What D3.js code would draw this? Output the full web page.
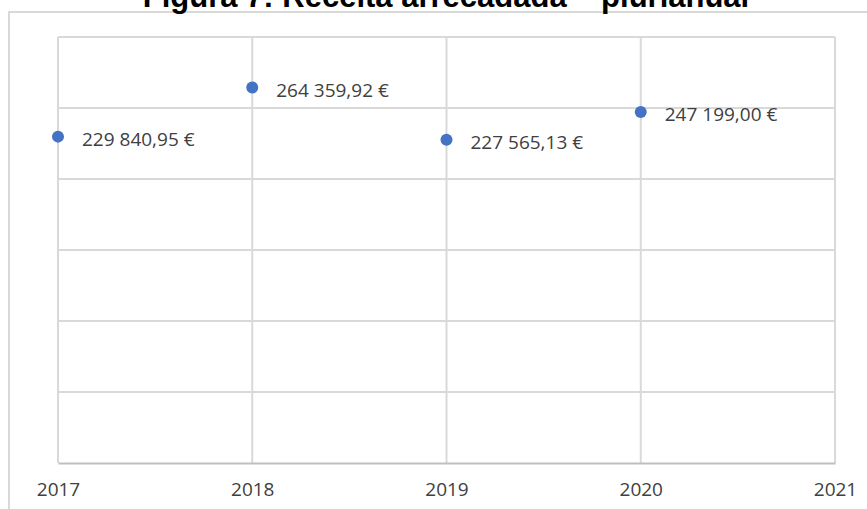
<!DOCTYPE html>
<html>
<head>
<meta charset="utf-8">
<script src="https://cdn.jsdelivr.net/npm/d3@7"></script>
<style>
  html, body { margin: 0; padding: 0; background: #fff; }
  #chart { width: 867px; height: 509px; overflow: hidden; }
  .grid line { stroke: #d9d9d9; stroke-width: 2; }
  .lbl { font-family: "Open Sans", sans-serif; fill: #404040; }
</style>
</head>
<body>
<div id="chart"></div>
<script>
// data
const titleText = "Figura 7: Receita arrecadada – plurianual"
const years = [2017, 2018, 2019, 2020]
const receita = [229840.95, 264359.92, 227565.13, 247199.00]
const receitaLabels = ["229 840,95 €", "264 359,92 €", "227 565,13 €", "247 199,00 €"]
const xTicks = [2017, 2018, 2019, 2020, 2021]
const yTicks = [0, 50000, 100000, 150000, 200000, 250000, 300000]

const W = 867, H = 509
const margin = { top: 37, right: 32, bottom: 46, left: 58 }

const svg = d3.select("#chart").append("svg")
    .attr("width", W)
    .attr("height", H)

// outer frame (right and bottom edges fall outside the picture)
svg.append("rect")
    .attr("x", 9).attr("y", 12)
    .attr("width", W + 20).attr("height", H + 20)
    .attr("fill", "none")
    .attr("stroke", "#d9d9d9")
    .attr("stroke-width", 2)

// title, mostly cut at the top like in the source
svg.append("text")
    .attr("x", 446).attr("y", 7)
    .attr("text-anchor", "middle")
    .style("font-family", "'Liberation Sans', Arial, sans-serif")
    .style("font-weight", "bold")
    .style("font-size", "31px")
    .attr("fill", "#000")
    .text(titleText)

const xScale = d3.scaleLinear().domain([2017, 2021]).range([margin.left, W - margin.right])
const yScale = d3.scaleLinear().domain([0, 300000]).range([H - margin.bottom, margin.top])

const g = svg.append("g")

// horizontal grid
g.append("g").attr("class", "grid")
    .selectAll("line")
    .data(yTicks.slice(1))
    .join("line")
    .attr("x1", xScale(2017)).attr("x2", xScale(2021))
    .attr("y1", d => yScale(d)).attr("y2", d => yScale(d))

// vertical grid
g.append("g").attr("class", "grid")
    .selectAll("line")
    .data(xTicks)
    .join("line")
    .attr("x1", d => xScale(d)).attr("x2", d => xScale(d))
    .attr("y1", yScale(300000)).attr("y2", yScale(0))

// x axis
const xAxis = d3.axisBottom(xScale).tickValues(xTicks).tickFormat(d3.format("d")).tickSize(0).tickPadding(20)
const ax = g.append("g")
    .attr("transform", "translate(0," + yScale(0) + ")")
    .call(xAxis)
ax.select(".domain").attr("stroke", "#bfbfbf").attr("stroke-width", 2)
ax.selectAll("text")
    .attr("class", "lbl")
    .style("font-size", "19px")
    .attr("fill", "#404040")

// points
g.selectAll("circle.pt")
    .data(years)
    .join("circle")
    .attr("class", "pt")
    .attr("cx", d => xScale(d))
    .attr("cy", (d, i) => yScale(receita[i]))
    .attr("r", 6)
    .attr("fill", "#4472c4")

// data labels
g.selectAll("text.dl")
    .data(years)
    .join("text")
    .attr("class", "dl lbl")
    .attr("x", d => xScale(d) + 24)
    .attr("y", (d, i) => yScale(receita[i]) + 2)
    .attr("dominant-baseline", "central")
    .style("font-size", "19px")
    .text((d, i) => receitaLabels[i])
</script>
</body>
</html>
